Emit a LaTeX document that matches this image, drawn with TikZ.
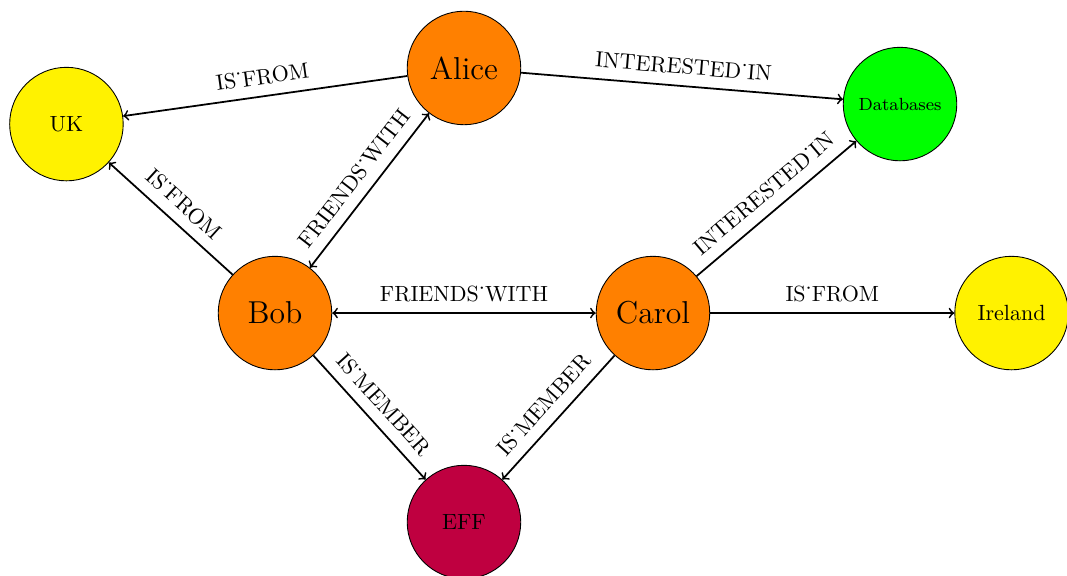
\documentclass[tikz,border=0pt]{standalone}
\begin{document}
\begin{tikzpicture}[x=1pt,y=1pt,
  entity/.style={circle,draw,thin,minimum size=51.6pt,inner sep=0pt},
  person/.style={entity,fill=orange,font=\Large},
  place/.style={entity,fill=yellow},
  topic/.style={entity,fill=green,font=\footnotesize},
  org/.style={entity,fill=purple},
  rel/.style={thick,->},
  bothrel/.style={thick,<->},
  lbl/.style={above=1.5pt,sloped,midway}]
\useasboundingbox (0,0) rectangle (485,-261.8);

\node[place]  (uk)      at (30.2,-56.4)   {UK};
\node[person] (alice)   at (210.9,-30.9)  {Alice};
\node[topic]  (db)      at (409.1,-47.3)  {Databases};
\node[person] (bob)     at (125,-142.3)   {Bob};
\node[person] (carol)   at (296.8,-142.3) {Carol};
\node[place]  (ireland) at (459.8,-142.3) {Ireland};
\node[org]    (eff)     at (210.9,-237.3) {EFF};

\draw[rel] (alice) -- node[lbl] {IS˙FROM} (uk);
\draw[rel] (alice) -- node[lbl] {INTERESTED˙IN} (db);
\draw[bothrel] (bob) -- node[lbl] {FRIENDS˙WITH} (alice);
\draw[rel] (bob) -- node[lbl] {IS˙FROM} (uk);
\draw[bothrel] (bob) -- node[lbl] {FRIENDS˙WITH} (carol);
\draw[rel] (carol) -- node[lbl] {INTERESTED˙IN} (db);
\draw[rel] (carol) -- node[lbl] {IS˙FROM} (ireland);
\draw[rel] (bob) -- node[lbl] {IS˙MEMBER} (eff);
\draw[rel] (carol) -- node[lbl] {IS˙MEMBER} (eff);
\end{tikzpicture}
\end{document}
